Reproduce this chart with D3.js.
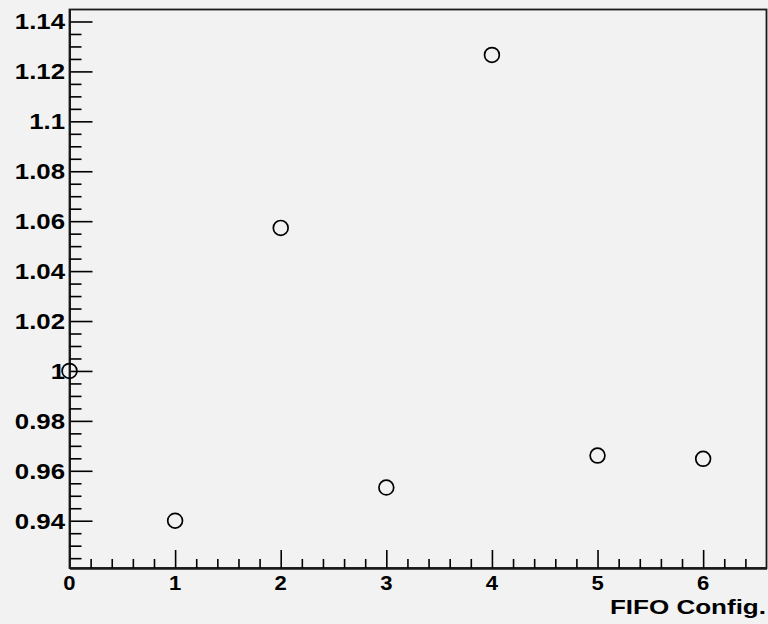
<!DOCTYPE html>
<html>
<head>
<meta charset="utf-8">
<script src="https://cdn.jsdelivr.net/npm/d3@7"></script>
<style>
  html, body { margin: 0; padding: 0; background: #f2f2f2; }
  svg { display: block; }
  text { font-family: "Liberation Sans", Arial, sans-serif; font-weight: bold; fill: #000; }
</style>
</head>
<body>
<svg id="chart" width="768" height="624"></svg>
<script>
// ---- data ----
const configs = [0, 1, 2, 3, 4, 5, 6];
const ratios = [1.0, 0.94, 1.0573, 0.9533, 1.1266, 0.9661, 0.9648];
const xTickValues = [0, 1, 2, 3, 4, 5, 6];
const yTickValues = [0.94, 0.96, 0.98, 1, 1.02, 1.04, 1.06, 1.08, 1.1, 1.12, 1.14];
const yTickLabels = ["0.94", "0.96", "0.98", "1", "1.02", "1.04", "1.06", "1.08", "1.1", "1.12", "1.14"];
const xTitle = "FIFO Config.";

// ---- layout ----
const W = 768, H = 624;
const frame = { left: 69.5, right: 766.5, top: 9.5, bottom: 568 };

const svg = d3.select("#chart");
svg.append("rect").attr("width", W).attr("height", H).attr("fill", "#f2f2f2");

const x = d3.scaleLinear().domain([0, 6.6]).range([frame.left, frame.right]);
const y = d3.scaleLinear().domain([0.92106, 1.1448]).range([frame.bottom, frame.top]);

// frame
svg.append("rect")
  .attr("x", frame.left).attr("y", frame.top)
  .attr("width", frame.right - frame.left).attr("height", frame.bottom - frame.top)
  .attr("fill", "#f2f2f2").attr("stroke", "#1a1a1a").attr("stroke-width", 1.8);

// minor ticks
const xMinor = d3.range(0, 33).map(i => i * 0.2).filter(v => v <= 6.6 && Math.abs(v - Math.round(v)) > 1e-6);
const yMinor = d3.range(0, 46).map(i => 0.92 + i * 0.005).filter(v => v >= 0.9211 && v <= 1.1448 && Math.abs(v * 50 - Math.round(v * 50)) > 1e-6);

// x axis (ticks pointing up, inside)
const xAxis = d3.axisBottom(x).tickValues(xTickValues).tickSize(-18).tickSizeOuter(0).tickFormat("");
const gx = svg.append("g").attr("transform", `translate(0,${frame.bottom})`).call(xAxis);
const xAxisMinor = d3.axisBottom(x).tickValues(xMinor).tickSize(-9).tickSizeOuter(0).tickFormat("");
const gxm = svg.append("g").attr("transform", `translate(0,${frame.bottom})`).call(xAxisMinor);

// y axis (ticks pointing right, inside)
const yAxis = d3.axisLeft(y).tickValues(yTickValues).tickSize(-23).tickSizeOuter(0).tickFormat("");
const gy = svg.append("g").attr("transform", `translate(${frame.left},0)`).call(yAxis);
const yAxisMinor = d3.axisLeft(y).tickValues(yMinor).tickSize(-12).tickSizeOuter(0).tickFormat("");
const gym = svg.append("g").attr("transform", `translate(${frame.left},0)`).call(yAxisMinor);

[gx, gxm, gy, gym].forEach(g => {
  g.select(".domain").attr("stroke", "#1a1a1a").attr("stroke-width", 1.8);
  g.selectAll(".tick line").attr("stroke", "#000").attr("stroke-width", 1.6);
});

// tick labels
svg.append("g").selectAll("text").data(xTickValues).join("text")
  .attr("transform", d => `translate(${x(d)},590) scale(1.05,1)`)
  .attr("text-anchor", "middle")
  .attr("font-size", 21)
  .text(d => d);

svg.append("g").selectAll("text").data(yTickValues).join("text")
  .attr("transform", d => `translate(65,${y(d) + 8}) scale(1.2,1)`)
  .attr("text-anchor", "end")
  .attr("font-size", 21.5)
  .text((d, i) => yTickLabels[i]);

// axis title
svg.append("text")
  .attr("transform", `translate(766,614) scale(1.24,1)`)
  .attr("text-anchor", "end")
  .attr("font-size", 21)
  .text(xTitle);

// markers
svg.append("g").selectAll("circle").data(configs).join("circle")
  .attr("cx", (d) => x(d))
  .attr("cy", (d, i) => y(ratios[i]))
  .attr("r", 7.4)
  .attr("fill", "none")
  .attr("stroke", "#000")
  .attr("stroke-width", 1.7);
</script>
</body>
</html>
